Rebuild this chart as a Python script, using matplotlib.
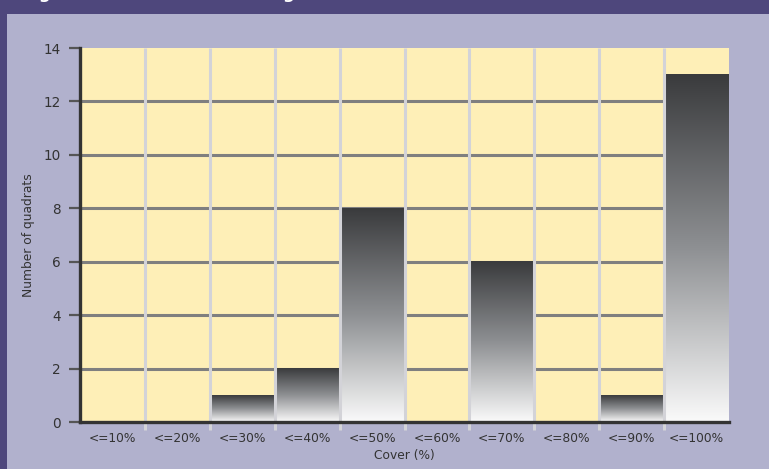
import numpy as np
import matplotlib.pyplot as plt
from matplotlib.patches import Rectangle
from matplotlib.colors import LinearSegmentedColormap

# cover classes and number of quadrats in each
categories = ['<=10%', '<=20%', '<=30%', '<=40%', '<=50%',
              '<=60%', '<=70%', '<=80%', '<=90%', '<=100%']
quadrats = [0, 0, 1, 2, 8, 0, 6, 0, 1, 13]
y_ticks = [0, 2, 4, 6, 8, 10, 12, 14]

PANEL = '#B1B1CD'
HEADER = '#4E477C'
PLOT_BG = '#FEEFB7'

fig = plt.figure(figsize=(7.69, 4.69), dpi=100, facecolor=PANEL)

# dark header strip and left border
fig.patches.append(Rectangle((0, 1 - 14 / 469), 1, 14 / 469, transform=fig.transFigure,
                             facecolor=HEADER, edgecolor='none', zorder=0))
fig.patches.append(Rectangle((0, 0), 7 / 769, 1, transform=fig.transFigure,
                             facecolor=HEADER, edgecolor='none', zorder=0))
fig.text(22 / 769, 1.0 + 1 / 469, 'Figure 4: Distribution of seagrass cover',
         color='white', fontsize=11.8, fontweight='bold', va='baseline', ha='left')

ax = fig.add_axes([80 / 769, 47 / 469, 649 / 769, 374 / 469])
ax.set_facecolor(PLOT_BG)

x = np.arange(len(categories))

# horizontal grid lines under the bars
for yv in y_ticks[1:-1]:
    ax.axhline(yv, color='#7F7F7F', lw=2.2, zorder=1)

# bars with a dark-to-white vertical gradient
grad = np.linspace(0, 1, 256).reshape(-1, 1)
cmap = LinearSegmentedColormap.from_list('barfade', ['#FAFAFA', '#8E9093', '#3A3B3D'])
for xi, v in zip(x, quadrats):
    if v <= 0:
        continue
    ax.imshow(grad, cmap=cmap, aspect='auto', origin='lower',
              extent=(xi - 0.5, xi + 0.5, 0, v), zorder=2, interpolation='bicubic')
ax.set_xlim(-0.5, len(categories) - 0.5)
ax.set_ylim(0, 14)

# light separators between the classes, reaching below the axis
for b in np.arange(0.5, len(categories) - 0.5, 1):
    ax.plot([b, b], [-0.3, 14], color='#D3D3D8', lw=2.2, zorder=3,
            clip_on=False, solid_capstyle='butt')

ax.set_xticks(x)
ax.set_xticklabels(categories)
ax.tick_params(axis='x', length=0, pad=7, labelsize=8.8, labelcolor='#333333')
ax.set_yticks(y_ticks)
ax.tick_params(axis='y', length=8, width=1.6, color='#555555', direction='out',
               labelsize=9.8, labelcolor='#333333', pad=6)

for side in ['top', 'right']:
    ax.spines[side].set_visible(False)
for side in ['left', 'bottom']:
    ax.spines[side].set_color('#333333')
    ax.spines[side].set_linewidth(2.4)
    ax.spines[side].set_zorder(4)

ax.set_xlabel('Cover (%)', fontsize=8.8, color='#333333', labelpad=3)
ax.set_ylabel('Number of quadrats', fontsize=8.8, color='#333333', labelpad=6)

fig.savefig('out.png', dpi=100, facecolor=fig.get_facecolor())
